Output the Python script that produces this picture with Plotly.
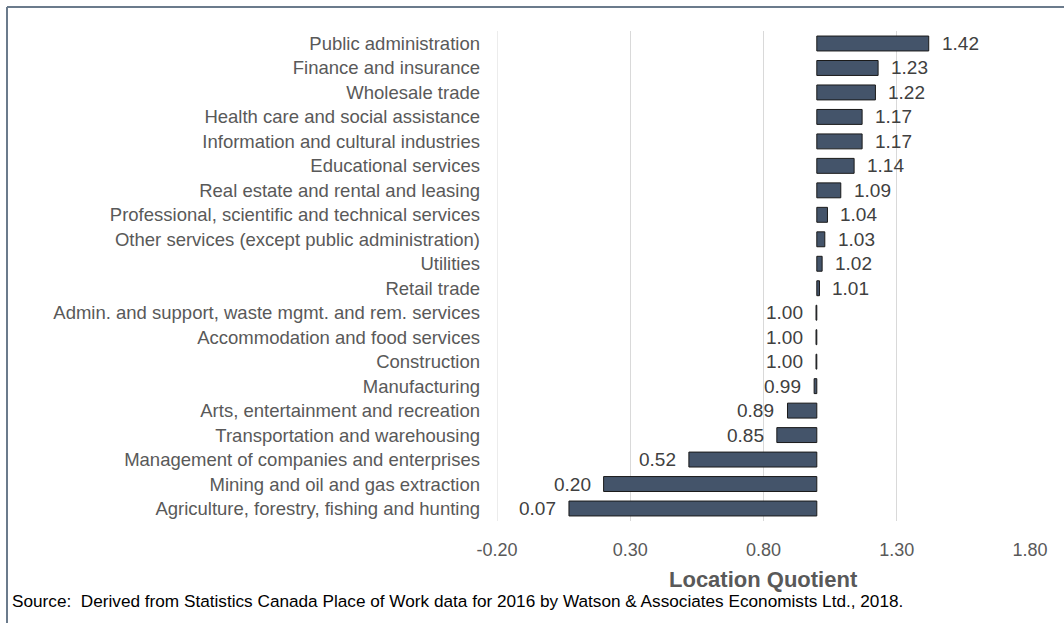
import plotly.graph_objects as go

categories = [
    "Public administration",
    "Finance and insurance",
    "Wholesale trade",
    "Health care and social assistance",
    "Information and cultural industries",
    "Educational services",
    "Real estate and rental and leasing",
    "Professional, scientific and technical services",
    "Other services (except public administration)",
    "Utilities",
    "Retail trade",
    "Admin. and support, waste mgmt. and rem. services",
    "Accommodation and food services",
    "Construction",
    "Manufacturing",
    "Arts, entertainment and recreation",
    "Transportation and warehousing",
    "Management of companies and enterprises",
    "Mining and oil and gas extraction",
    "Agriculture, forestry, fishing and hunting",
]
location_quotient = [1.42, 1.23, 1.22, 1.17, 1.17, 1.14, 1.09, 1.04, 1.03, 1.02,
                     1.01, 0.997, 0.997, 0.997, 0.99, 0.89, 0.85, 0.52, 0.20, 0.07]
baseline = 1.0
tick_values = [-0.20, 0.30, 0.80, 1.30, 1.80]
tick_labels = ["-0.20", "0.30", "0.80", "1.30", "1.80"]

FONT = "Liberation Sans, Arial, sans-serif"
W, H = 1064, 623
L, R, T, B = 497, 34, 31, 102
pw, ph = W - L - R, H - T - B

fig = go.Figure()
fig.add_trace(go.Bar(
    y=categories,
    x=[v - baseline for v in location_quotient],
    base=baseline,
    orientation="h",
    marker=dict(color="#44546A", line=dict(color="#1a1a1a", width=1)),
    hoverinfo="skip",
))

annotations = []
for c, v in zip(categories, location_quotient):
    right = v > baseline
    annotations.append(dict(
        x=v, y=c, xref="x", yref="y", text=f"{v:.2f}", showarrow=False,
        xanchor="left" if right else "right", xshift=11 if right else -11,
        font=dict(family=FONT, size=19, color="#404040"),
    ))

annotations.append(dict(
    x=(10 - L) / pw, y=-(601 - (T + ph)) / ph, xref="paper", yref="paper",
    xanchor="left", yanchor="middle", showarrow=False,
    text="Source:  Derived from Statistics Canada Place of Work data for 2016 by Watson & Associates Economists Ltd., 2018.",
    font=dict(family=FONT, size=17.2, color="#000000"),
))
annotations.append(dict(
    x=0.5, y=-(579 - (T + ph)) / ph, xref="paper", yref="paper",
    xanchor="center", yanchor="middle", showarrow=False,
    text="<b>Location Quotient</b>",
    font=dict(family=FONT, size=22, color="#595959"),
))

fx = (7 - L) / pw
fy_top = 1 + (T - 7) / ph
fy_bot = -(H - T - ph + 5) / ph
fx_right = 1 + (R + 5) / pw
frame_line = dict(color="#6B7B8C", width=2)

shapes = [
    dict(type="line", xref="paper", yref="paper", x0=fx, x1=fx, y0=fy_bot, y1=fy_top, line=frame_line),
    dict(type="line", xref="paper", yref="paper", x0=fx, x1=fx_right, y0=fy_top, y1=fy_top, line=frame_line),
    dict(type="line", xref="x", yref="paper", x0=tick_values[0], x1=tick_values[0], y0=0, y1=1,
         line=dict(color="#D9D9D9", width=1), layer="below"),
]

fig.update_layout(
    width=W, height=H,
    margin=dict(l=L, r=R, t=T, b=B),
    paper_bgcolor="white", plot_bgcolor="white",
    showlegend=False,
    bargap=0.39,
    annotations=annotations,
    shapes=shapes,
    xaxis=dict(
        range=[-0.2, 1.8], tickvals=tick_values, ticktext=tick_labels,
        showgrid=True, gridcolor="#D9D9D9", gridwidth=1, zeroline=False,
        showline=False, ticks="", ticklabelstandoff=16,
        tickfont=dict(family=FONT, size=18, color="#595959"),
    ),
    yaxis=dict(
        autorange="reversed", showgrid=False, zeroline=False, showline=False,
        ticks="", ticklabelstandoff=16,
        tickfont=dict(family=FONT, size=18.5, color="#595959"),
    ),
)

fig.write_html("out.html", config={"displayModeBar": False},
               post_script="document.body.style.margin='0px';")
